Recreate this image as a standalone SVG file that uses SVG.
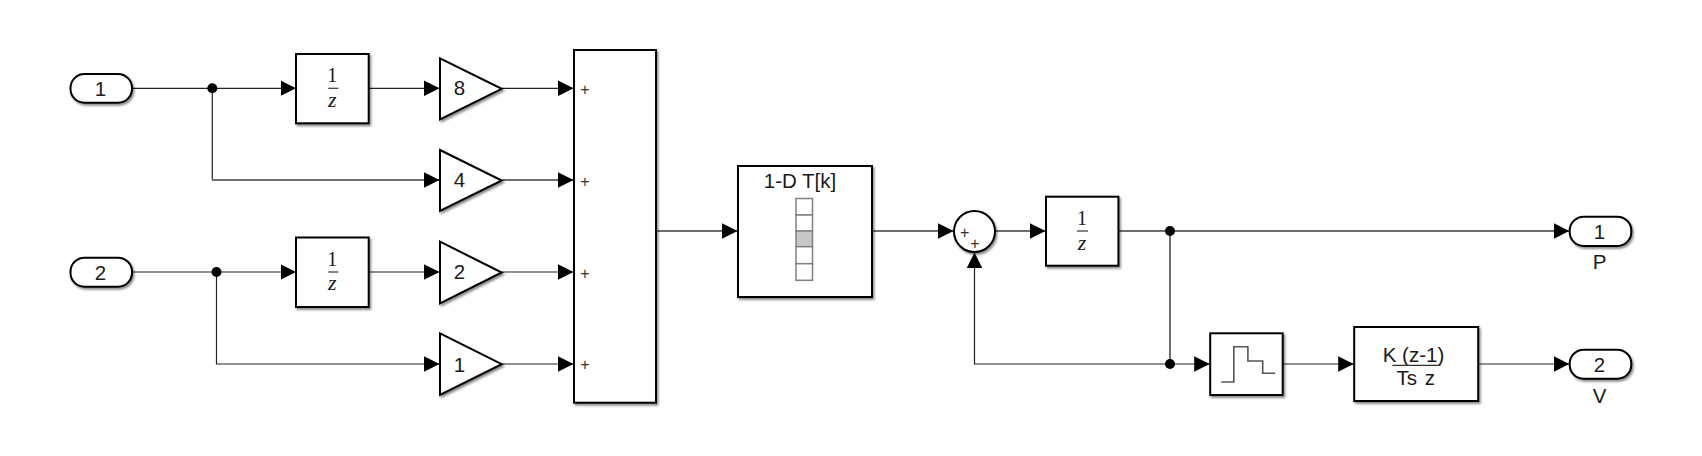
<svg xmlns="http://www.w3.org/2000/svg" width="1702" height="456" viewBox="0 0 1702 456">
<style>
.blk{fill:#fff;stroke:#000;stroke-width:2;filter:url(#sh)}
.w{fill:none;stroke:#222;stroke-width:1.2;marker-end:url(#ah)}
.g{fill:none;stroke:#6e6e6e;stroke-width:2;marker-end:url(#ah)}
.ng{fill:none;stroke:#6e6e6e;stroke-width:2}
.j{fill:#000}
text{font-family:"Liberation Sans",Arial,sans-serif;font-size:20.5px;fill:#1a1a1a;text-anchor:middle}
.s1{font-family:"Liberation Serif","Times New Roman",serif;font-size:20px}
.sz{font-family:"Liberation Serif","Times New Roman",serif;font-size:22px;font-style:italic}
.p{font-size:16px;fill:#333}
.bar{stroke:#333;stroke-width:1.2}
.cell{fill:#fff;stroke:#808080;stroke-width:1.5}
</style>
<defs>
<filter id="sh" x="-10%" y="-10%" width="125%" height="125%"><feDropShadow dx="1.5" dy="2" stdDeviation="1.2" flood-color="#000" flood-opacity="0.45"/></filter>
<marker id="ah" markerUnits="userSpaceOnUse" markerWidth="16" markerHeight="16" refX="15.5" refY="8" orient="auto"><path d="M0 0.2L15.5 8L0 15.8Z" fill="#000"/></marker>
</defs>
<g id="connectors">
<path class="w" d="M132.5 88.3H296"/>
<path class="w" d="M369 88.3H439.5"/>
<path class="w" d="M502 88.3H573.5"/>
<path class="w" d="M212.3 88.3V180" style="marker-end:none"/>
<path class="g" d="M212 180H439.5"/>
<path class="g" d="M502 180H573.5"/>
<path class="w" d="M132.5 272H296"/>
<path class="w" d="M369 272H439.5"/>
<path class="w" d="M502 272H573.5"/>
<path class="w" d="M216.5 272V364H439.5"/>
<path class="w" d="M502 364H573.5"/>
<path class="g" d="M657 231H737.5"/>
<path class="g" d="M872.5 231H953.5"/>
<path class="g" d="M995.5 231H1045.5"/>
<path class="g" d="M1118.5 231H1569.2"/>
<path class="ng" d="M1170 231V364"/>
<path class="w" d="M1170 364H1209.7"/>
<path class="w" d="M1170 364H974.5V252.5"/>
<path class="w" d="M1283 364H1353.7"/>
<path class="w" d="M1478.5 364H1569.2"/>
<circle class="j" cx="212.3" cy="88.3" r="5"/>
<circle class="j" cx="216.5" cy="272" r="5"/>
<circle class="j" cx="1170" cy="231" r="5"/>
<circle class="j" cx="1170" cy="364" r="5"/>
</g>
<g id="in1"><rect class="blk" x="70.5" y="74" width="61.5" height="28.7" rx="14"/><text x="100.5" y="95.7">1</text></g>
<g id="in2"><rect class="blk" x="70.5" y="257.7" width="61.5" height="29" rx="14"/><text x="100.5" y="279.5">2</text></g>
<g id="delay1"><rect class="blk" x="296" y="54" width="72.7" height="69.3"/><text class="s1" x="332.3" y="82.3">1</text><path class="bar" d="M328.3 88.3H338.3"/><text class="sz" x="332.3" y="106.7">z</text></g>
<g id="delay2"><rect class="blk" x="296" y="237.5" width="72.7" height="69.5"/><text class="s1" x="332.3" y="265.8">1</text><path class="bar" d="M328.3 272H338.3"/><text class="sz" x="332.3" y="290.3">z</text></g>
<g id="gain8"><path class="blk" d="M440 58.3L501.7 88.8L440 119.3Z"/><text x="459.5" y="95.3">8</text></g>
<g id="gain4"><path class="blk" d="M440 150L501.7 180.5L440 211Z"/><text x="459.5" y="187.3">4</text></g>
<g id="gain2"><path class="blk" d="M440 241.7L501.7 272.5L440 303.3Z"/><text x="459.5" y="279">2</text></g>
<g id="gain1"><path class="blk" d="M440 333.3L501.7 364.2L440 395Z"/><text x="459.5" y="371.5">1</text></g>
<g id="sum4"><rect class="blk" x="574" y="50" width="82" height="352.7"/><text class="p" x="585" y="94.7">+</text><text class="p" x="585" y="186.5">+</text><text class="p" x="585" y="278.5">+</text><text class="p" x="585" y="370">+</text></g>
<g id="lookup"><rect class="blk" x="738" y="166" width="134" height="131"/><text x="800" y="188">1-D T[k]</text>
<rect class="cell" x="796" y="198.5" width="16.5" height="16.5"/><rect class="cell" x="796" y="215" width="16.5" height="16"/><rect class="cell" x="796" y="231" width="16.5" height="15.7" style="fill:#c8c8c8"/><rect class="cell" x="796" y="246.7" width="16.5" height="17"/><rect class="cell" x="796" y="263.7" width="16.5" height="16.6"/></g>
<g id="sum2"><circle class="blk" cx="974.5" cy="231.5" r="20.5"/><text class="p" x="964.6" y="238">+</text><text class="p" x="975" y="248.5">+</text></g>
<g id="delay3"><rect class="blk" x="1046" y="196.7" width="72.4" height="69"/><text class="s1" x="1082" y="225">1</text><path class="bar" d="M1077 231H1088"/><text class="sz" x="1082" y="249.5">z</text></g>
<g id="zoh"><rect class="blk" x="1210.2" y="333.3" width="72.5" height="61.7"/><path d="M1221.1 382H1233.8V346.7H1247.9V361H1262.7V373.3H1275" fill="none" stroke="#555" stroke-width="1.6"/></g>
<g id="deriv"><rect class="blk" x="1354.2" y="327" width="124" height="74"/><text x="1413.5" y="362.3">K (z-1)</text><path class="bar" d="M1392.3 365.3H1440.5"/><text x="1415.7" y="385" style="word-spacing:2px">Ts z</text></g>
<g id="out1"><rect class="blk" x="1569.7" y="216.7" width="61.6" height="29.3" rx="14"/><text x="1599.5" y="239">1</text><text x="1599.5" y="269.3">P</text></g>
<g id="out2"><rect class="blk" x="1569.7" y="349.7" width="61.6" height="29" rx="14"/><text x="1599.5" y="371.5">2</text><text x="1599.5" y="402.7">V</text></g>
</svg>
